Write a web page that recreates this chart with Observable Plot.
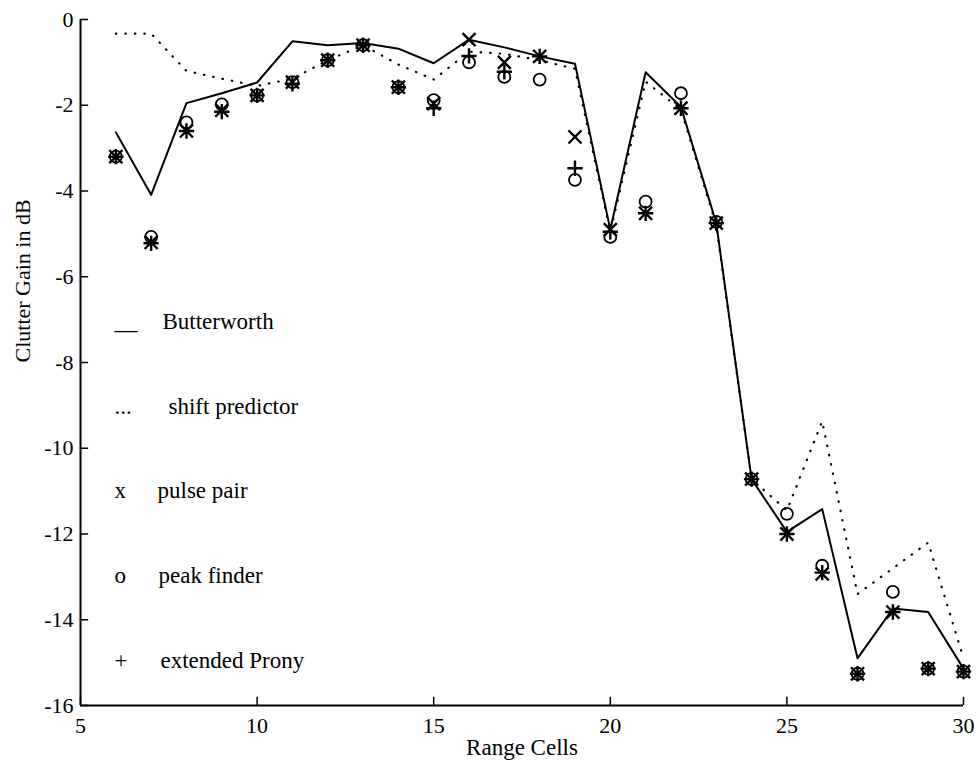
<!DOCTYPE html>
<html><head><meta charset="utf-8">
<script src="https://cdn.jsdelivr.net/npm/d3@7"></script>
<script src="https://cdn.jsdelivr.net/npm/@observablehq/plot@0.6"></script>
<style>
body{margin:0;background:#fff}
#chart svg, #chart svg text { font-family: "Liberation Serif", "DejaVu Serif", serif !important; }
</style>
</head><body><div id="chart"></div>
<script>
// ---- data ----
const cells = [6,7,8,9,10,11,12,13,14,15,16,17,18,19,20,21,22,23,24,25,26,27,28,29,30];
const butterworth = [-2.63,-4.09,-1.95,-1.72,-1.47,-0.51,-0.60,-0.55,-0.68,-1.02,-0.47,-0.65,-0.86,-1.03,-4.90,-1.23,-2.04,-4.75,-10.72,-11.95,-11.42,-14.90,-13.74,-13.82,-15.14];
const shiftPredictor = [-0.33,-0.33,-1.20,-1.38,-1.55,-1.38,-0.95,-0.60,-1.05,-1.40,-0.75,-0.80,-0.95,-1.15,-4.95,-1.45,-2.10,-4.80,-10.72,-11.45,-9.37,-13.40,-12.80,-12.20,-14.90];
const pulsePair = [-3.20,-5.20,-2.60,-2.12,-1.77,-1.46,-0.95,-0.60,-1.58,-1.96,-0.47,-1.00,-0.86,-2.74,-4.90,-4.52,-2.07,-4.75,-10.72,-12.00,-12.93,-15.26,-13.82,-15.14,-15.21];
const peakFinder = [-3.20,-5.07,-2.40,-1.98,-1.77,-1.46,-0.95,-0.60,-1.58,-1.88,-1.00,-1.34,-1.40,-3.74,-5.07,-4.25,-1.72,-4.72,-10.72,-11.53,-12.74,-15.26,-13.35,-15.14,-15.21];
const extendedProny = [-3.20,-5.22,-2.60,-2.15,-1.77,-1.50,-0.95,-0.60,-1.58,-2.07,-0.85,-1.22,-0.86,-3.47,-4.95,-4.52,-2.07,-4.75,-10.72,-12.00,-12.90,-15.26,-13.82,-15.14,-15.21];
const xTicks = [5,10,15,20,25,30];
const yTicks = [0,-2,-4,-6,-8,-10,-12,-14,-16];
const legendSymbols = ["__", "...", "x", "o", "+"];
const legendLabels = ["Butterworth", "shift predictor", "pulse pair", "peak finder", "extended Prony"];
const xLabel = "Range Cells";
const yLabel = "Clutter Gain in dB";

// ---- layout ----
const W = 979, H = 761, mL = 80, mR = 16, mT = 19, mB = 56;
const font = "Liberation Serif";
const legendIndent = [82, 88, 77, 78, 80];
const rows = vals => cells.map((c, i) => ({cell: c, gain: vals[i]}));

const legendMarks = [];
legendLabels.forEach((lab, i) => {
  const dy = 302 + i * 84.8;
  legendMarks.push(Plot.text([legendSymbols[i]], {text: d => d, frameAnchor: "top-left", dx: 34, dy, textAnchor: "start", lineAnchor: "middle", fontSize: 23, fontFamily: font}));
  legendMarks.push(Plot.text([lab], {text: d => d, frameAnchor: "top-left", dx: legendIndent[i], dy, textAnchor: "start", lineAnchor: "middle", fontSize: 23, fontFamily: font}));
});

const chart = Plot.plot({
  width: W, height: H,
  marginLeft: mL, marginRight: mR, marginTop: mT, marginBottom: mB,
  style: {fontFamily: font, fontSize: "22px", background: "white", color: "black"},
  x: {domain: [5, 30], label: null},
  y: {domain: [-16, 0], label: null},
  marks: [
    Plot.axisX(xTicks, {tickSize: 0, tickPadding: 12, fontSize: 22, fontFamily: font, tickFormat: d => String(d), label: null}),
    Plot.axisY(yTicks, {tickSize: 0, tickPadding: 7, fontSize: 22, fontFamily: font, tickFormat: d => String(d), label: null}),
    Plot.ruleX(xTicks, {x: d => d, y1: -16, y2: -16 + 0.19, strokeWidth: 1.5}),
    Plot.ruleY(yTicks, {y: d => d, x1: 5, x2: 5 + 0.23, strokeWidth: 1.5}),
    Plot.ruleX([5], {strokeWidth: 2}),
    Plot.ruleY([-16], {strokeWidth: 2}),
    Plot.text([xLabel], {text: d => d, frameAnchor: "bottom", dy: 42, lineAnchor: "middle", fontSize: 23, fontFamily: font}),
    Plot.text([yLabel], {text: d => d, frameAnchor: "left", dx: -58, dy: 0, rotate: -90, lineAnchor: "middle", fontSize: 22, fontFamily: font}),
    Plot.line(rows(butterworth), {x: "cell", y: "gain", stroke: "black", strokeWidth: 2}),
    Plot.line(rows(shiftPredictor), {x: "cell", y: "gain", stroke: "black", strokeWidth: 2.2, strokeDasharray: "0.5,9", strokeLinecap: "round"}),
    Plot.dot(rows(pulsePair), {x: "cell", y: "gain", symbol: "times", r: 6, stroke: "black", strokeWidth: 2.4}),
    Plot.dot(rows(peakFinder), {x: "cell", y: "gain", symbol: "circle", r: 6, stroke: "black", strokeWidth: 1.8}),
    Plot.dot(rows(extendedProny), {x: "cell", y: "gain", symbol: "plus", r: 5, stroke: "black", strokeWidth: 2.4}),
    ...legendMarks
  ]
});
document.getElementById("chart").appendChild(chart);
</script>
</body></html>
